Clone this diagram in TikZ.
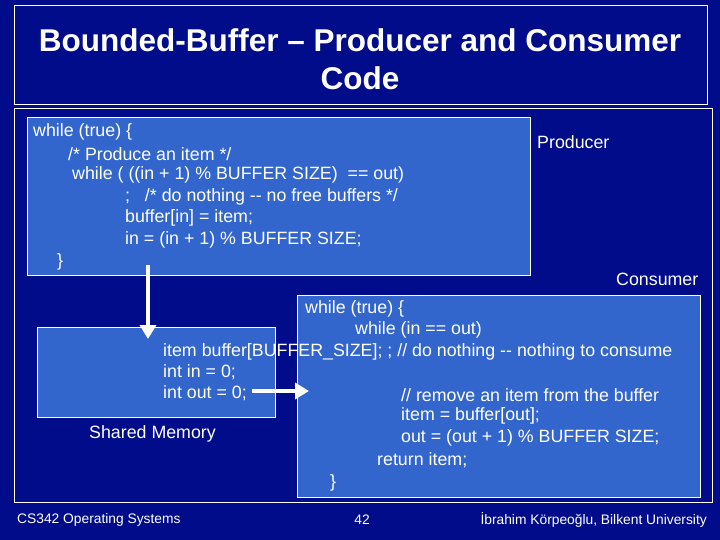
\documentclass[tikz,border=0pt]{standalone}
\usepackage{fontspec}
\setmainfont{Liberation Sans}
\usetikzlibrary{arrows.meta, positioning}
\definecolor{slidebg}{HTML}{000C8A}
\definecolor{boxfill}{HTML}{3366CC}
\begin{document}
\begin{tikzpicture}
[x=1pt, y=-1pt,
CodeBox/.style={rectangle, draw=white, thick, fill=boxfill, anchor=north west, inner sep=0pt},
Frame/.style={rectangle, draw=white, thick, anchor=north west, inner sep=0pt},
CodeLine/.style={anchor=west, text=white, font=\fontsize{17.8}{20}\selectfont, inner sep=0pt},
Foot/.style={text=white, font=\fontsize{13.8}{15}\selectfont, inner sep=0pt},
FlowArrow/.style={draw=white, line width=3.5pt, -{Triangle[width=16pt, length=14pt]}}
]
\fill[slidebg] (0,0) rectangle (720,540);
\useasboundingbox (0,0) rectangle (720,540);

\node[Frame, minimum width=693pt, minimum height=99pt] (TitleBox) at (14,5) {};
\node[text=white, align=center, font=\fontsize{31.5}{38}\selectfont\bfseries] (Title) at (360,59)
  {Bounded-Buffer -- Producer and Consumer\\Code};
\node[Frame, minimum width=698pt, minimum height=394pt] (Body) at (14,108) {};

\node[CodeBox, minimum width=503pt, minimum height=158pt] (ProducerBox) at (27,117) {};
\node[CodeBox, minimum width=238pt, minimum height=90pt] (SharedBox) at (37,327) {};
\node[CodeBox, minimum width=403pt, minimum height=202pt] (ConsumerBox) at (297,295) {};

% producer code
\node[CodeLine] (p1) at (33,132) {while (true) \{};
\node[CodeLine] (p2) at (68,154) {/* Produce an item */};
\node[CodeLine] (p3) at (72,175) {while ( ((in + 1) \% BUFFER SIZE) \ == out)};
\node[CodeLine] (p4) at (125,197) {; \ \ /* do nothing -{}- no free buffers */};
\node[CodeLine] (p5) at (125,218) {buffer[in] = item;};
\node[CodeLine] (p6) at (125,240) {in = (in + 1) \% BUFFER SIZE;};
\node[CodeLine] (p7) at (57,262) {\}};
\node[CodeLine] (Producer) at (537,142) {Producer};
\node[CodeLine] (Consumer) at (616,279) {Consumer};

% shared memory
\node[CodeLine] (s1) at (163,352) {item buffer[BUFFER\_SIZE]; ; // do nothing -{}- nothing to consume};
\node[CodeLine] (s2) at (163,372) {int in = 0;};
\node[CodeLine] (s3) at (163,393) {int out = 0;};
\node[CodeLine] (Shared) at (89,434) {Shared Memory};

% consumer code
\node[CodeLine] (c1) at (305,309) {while (true) \{};
\node[CodeLine] (c2) at (355,330) {while (in == out)};
\node[CodeLine] (c3) at (401,395) {// remove an item from the buffer};
\node[CodeLine] (c4) at (401,416) {item = buffer[out];};
\node[CodeLine] (c5) at (401,438) {out = (out + 1) \% BUFFER SIZE;};
\node[CodeLine] (c6) at (377,460) {return item;};
\node[CodeLine] (c7) at (330,483) {\}};

\coordinate (DownStart) at (148,265);
\coordinate (DownEnd) at (148,339);
\coordinate (RightStart) at (252,391);
\coordinate (RightEnd) at (309,391);
\draw[FlowArrow] (DownStart) -- (DownEnd);
\draw[FlowArrow] (RightStart) -- (RightEnd);

\node[Foot, anchor=west] (Course) at (17,520) {CS342 Operating Systems};
\node[Foot] (Page) at (362,520) {42};
\node[Foot, anchor=east] (Author) at (707,520) {İbrahim Körpeoğlu, Bilkent University};
\end{tikzpicture}
\end{document}
